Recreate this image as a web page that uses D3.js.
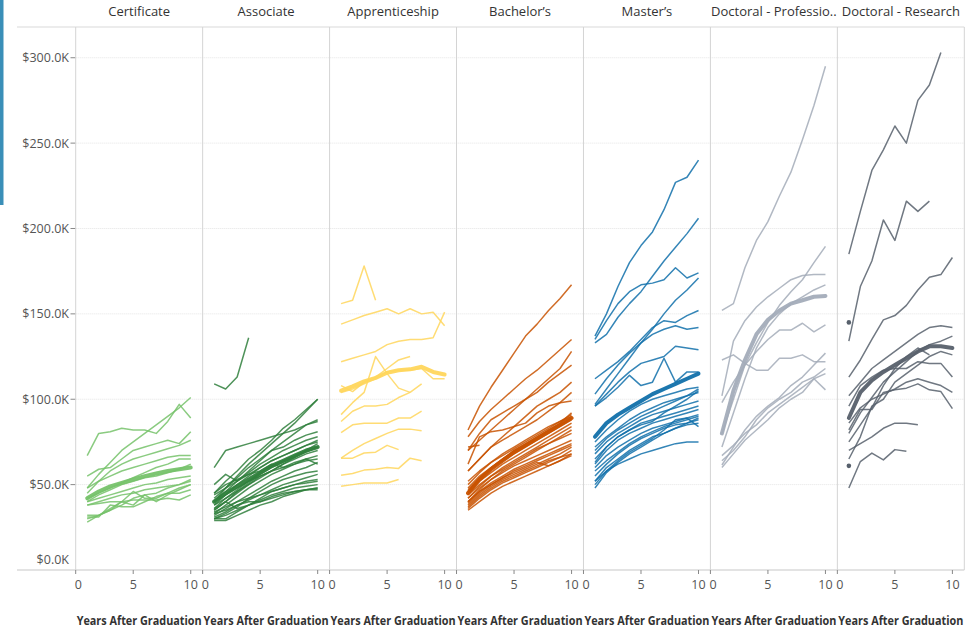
<!DOCTYPE html>
<html>
<head>
<meta charset="utf-8">
<script src="https://cdn.jsdelivr.net/npm/d3@7"></script>
<style>
  body { margin: 0; background: #fff; }
  text { font-family: "Open Sans", "Noto Sans", sans-serif; }
</style>
</head>
<body>
<script>
const width = 979;
const height = 630;

// panel headers and colours
const categories = ["Certificate", "Associate", "Apprenticeship", "Bachelor’s", "Master’s", "Doctoral - Professio..", "Doctoral - Research"];
const colors = ["#76c26a", "#2f7f3c", "#ffd65c", "#c85200", "#1170aa", "#a3acb9", "#57606c"];
const yTicks = [0, 50, 100, 150, 200, 250, 300];   // $K
const xTicks = [0, 5, 10];

// salary (in $K) by year after graduation, each series starts at year 1
const certificateLines = [
  [67, 80, 81, 83, 82, 82, 80, 87, 97, 89],
  [48, 56, 63, 70, 75, 80, 85, 90, 95, 101],
  [55, 59, 60, 65, 70, 72, 74, 76, 74, 81],
  [45, 52, 58, 62, 65, 67, 69, 71, 73, 76],
  [48, 52, 55, 58, 60, 62, 64, 66, 67, 67],
  [42, 45, 48, 51, 54, 57, 60, 62, 65, 65],
  [40, 44, 47, 50, 52, 54, 55, 57, 59, 62],
  [40, 42, 44, 46, 48, 50, 51, 53, 54, 55],
  [38, 40, 42, 44, 45, 47, 48, 49, 50, 52],
  [38, 39, 40, 40, 41, 41, 41, 42, 41, 44],
  [30, 32, 36, 40, 38, 44, 40, 44, 47, 50],
  [28, 32, 35, 38, 42, 44, 45, 48, 50, 53],
  [32, 32, 35, 40, 46, 42, 42, 45, 48, 50],
  [31, 31, 38, 37, 37, 40, 43, 45, 45, 47]
];
const certificateAvg = [42, 46, 49, 51, 53, 55, 56.5, 58, 59, 60];

const associateLines = [
  [109, 106, 113, 136],
  [60, 70, 72, 74, 76, 78, 80, 82, 85, 87],
  [45, 52, 58, 65, 70, 76, 83, 88, 94, 100],
  [40, 48, 55, 62, 68, 74, 80, 86, 93, 100],
  [50, 56, 52, 58, 64, 70, 75, 80, 85, 88],
  [42, 48, 54, 60, 65, 70, 72, 76, 79, 81],
  [40, 46, 52, 57, 62, 66, 70, 73, 76, 78],
  [38, 44, 50, 55, 60, 64, 67, 70, 73, 75],
  [36, 42, 47, 52, 57, 61, 64, 67, 70, 72],
  [35, 40, 45, 50, 55, 58, 62, 65, 68, 70],
  [33, 38, 43, 48, 52, 56, 59, 62, 65, 67],
  [40, 44, 48, 52, 55, 58, 60, 62, 64, 65],
  [45, 50, 53, 56, 58, 62, 60, 63, 65, 62],
  [32, 36, 40, 44, 48, 52, 55, 58, 60, 63],
  [30, 33, 37, 42, 46, 50, 53, 55, 57, 58],
  [31, 34, 38, 41, 44, 47, 50, 52, 54, 56],
  [30, 30, 34, 38, 42, 46, 48, 50, 52, 53],
  [34, 37, 40, 42, 44, 46, 48, 50, 51, 52],
  [30, 32, 35, 38, 41, 44, 46, 48, 49, 50],
  [29, 29, 32, 35, 38, 40, 43, 45, 47, 48],
  [33, 35, 38, 40, 40, 42, 44, 46, 47, 47],
  [36, 40, 36, 38, 40, 43, 45, 46, 47, 48],
  [44, 48, 52, 56, 60, 64, 67, 70, 73, 76],
  [38, 42, 46, 50, 54, 58, 62, 66, 70, 74],
  [35, 40, 46, 51, 56, 60, 63, 66, 69, 72]
];
const associateAvg = [40, 45, 49, 53, 57, 61, 64, 67, 70, 72];

const apprenticeshipLines = [
  [156, 158, 178, 158],
  [144, 146.5, 149, 151, 153, 150, 153, 150, 151, 143],
  [122, 124, 126, 128, 132, 134, 135, 135, 136, 151],
  [91, 98, 104, 125, 115, 106.5, 104],
  [108, 104.5, 110, 113, 118, 123, 125],
  [104, 106, 109, 112, 116, 117, 117, 118, 112, 112],
  [87, 93, 96, 96, 97, 101, 104, 109],
  [80.5, 85, 86, 86, 86, 89, 89, 93],
  [65.5, 70, 74, 77, 80, 82.5, 82.5, 81.5],
  [65.5, 65.5, 68.5, 69, 73, 70.5],
  [55.5, 56.5, 58.5, 59, 60, 59.5, 65.5, 64],
  [49, 50, 51, 51, 51, 53]
];
const apprenticeshipAvg = [105, 107.5, 110.5, 112.5, 115.5, 117, 117.5, 119, 116, 114.5];

const bachelorsLines = [
  [82, 96, 107, 117, 127, 137, 144, 152, 159, 167],
  [78, 87, 94, 100, 106, 112, 117, 123, 129, 135],
  [70, 76, 82, 88, 94, 100, 106, 112, 118, 128],
  [72, 73],
  [70, 80, 88, 92, 96, 100, 104, 110, 115, 120],
  [58, 65, 72, 78, 84, 90, 96, 100, 104, 110],
  [62, 78, 81, 82, 84, 86, 92, 96, 98, 99],
  [58, 65, 72, 76, 80, 84, 88, 93, 98, 104],
  [52, 58, 63, 67, 71, 75, 79, 83, 87, 91],
  [48, 55, 60, 65, 69, 73, 77, 81, 85, 89],
  [45, 52, 57, 62, 66, 70, 74, 78, 82, 86],
  [44, 50, 55, 59, 63, 67, 71, 74, 77, 80],
  [42, 48, 53, 57, 61, 64, 67, 70, 73, 76],
  [40, 46, 51, 55, 59, 62, 65, 68, 71, 74],
  [38, 44, 49, 53, 56, 59, 62, 65, 68, 72],
  [36, 42, 47, 51, 54, 57, 60, 63, 66, 70],
  [35, 40, 45, 49, 52, 55, 58, 61, 64, 67],
  [40, 47, 53, 58, 62, 66, 70, 74, 78, 82],
  [46, 53, 59, 64, 68, 72, 76, 80, 84, 88],
  [50, 57, 63, 68, 72, 76, 80, 84, 87, 90],
  [40, 46, 50, 54, 57, 60, 63, 61, 64, 68],
  [37, 43, 48, 52, 55, 58, 61, 64, 66, 68],
  [39, 45, 50, 54, 58, 61, 64, 67, 70, 73],
  [47, 54, 60, 65, 70, 74, 78, 82, 86, 92],
  [42, 49, 55, 60, 64, 68, 72, 76, 80, 84]
];
const bachelorsAvg = [45, 53, 59, 64, 69, 73, 77, 81, 85, 89];

const mastersLines = [
  [137, 150, 166, 180, 190, 198, 211, 227, 230, 240],
  [133, 138, 148, 156, 163, 172, 181, 189, 197, 206],
  [135, 146, 156, 163, 167, 168, 170, 177, 171, 174],
  [97, 106, 115, 124, 133, 141, 150, 158, 164, 171],
  [112, 117, 122, 128, 135, 142, 146, 145, 149, 152],
  [103, 112, 120, 127, 133, 138, 141, 143, 141, 142],
  [96, 103, 110, 116, 121, 123, 125, 131, 130, 129],
  [96, 101, 107, 114, 108, 110, 124, 110, 116, 116],
  [72, 78, 83, 88, 92, 95, 98, 100, 102, 104],
  [68, 75, 80, 84, 88, 91, 93, 95, 97, 99],
  [65, 72, 78, 82, 86, 88, 90, 92, 94, 96],
  [62, 70, 76, 80, 83, 86, 88, 90, 92, 94],
  [60, 67, 72, 76, 80, 83, 85, 87, 89, 91],
  [58, 64, 69, 74, 78, 81, 84, 86, 88, 90],
  [55, 62, 68, 73, 77, 80, 83, 85, 86, 88],
  [52, 60, 65, 70, 74, 78, 80, 83, 85, 86],
  [50, 58, 64, 69, 73, 77, 82, 88, 89, 84],
  [48, 57, 63, 68, 72, 76, 80, 83, 86, 89],
  [52, 58, 62, 65, 68, 70, 72, 74, 75, 75],
  [63, 72, 78, 82, 85, 87, 92, 96, 100, 105],
  [75, 82, 88, 93, 97, 100, 102, 104, 106, 107],
  [70, 77, 82, 86, 90, 93, 96, 99, 102, 106]
];
const mastersAvg = [78, 86, 91, 95, 99, 103, 106, 109, 112, 115];

const doctoralProfLines = [
  [152, 156, 177, 193, 204, 219, 233, 252, 272, 295],
  [102, 134, 146, 154, 160, 165, 170, 172.5, 173, 173],
  [80, 100, 120, 133, 145, 155, 163, 170, 180, 189.5],
  [98, 110, 120, 128, 135, 140.5, 140.5, 144.5, 139.5, 143.5],
  [123, 126, 121, 117, 117, 124, 124, 126, 122, 122],
  [61.5, 72, 82, 90, 96, 101, 108, 113, 120, 127],
  [64, 70, 78, 88, 95, 100, 104, 110, 113, 118],
  [67, 73, 80, 85, 92, 97, 102, 107, 112, 115],
  [60, 68, 76, 82, 88, 95, 100, 104, 112, 105.5],
  [72, 92, 112, 130, 142, 150, 156, 160, 164, 167]
];
const doctoralProfAvg = [80, 105, 123, 138, 146.5, 152, 156, 158, 160, 160.5];

const doctoralResLines = [
  [185, 210, 234, 246, 260, 250, 275, 284, 303],
  [134, 166, 181, 205, 193, 216, 210, 216],
  [113, 123, 135, 146.5, 149, 155, 164, 171.5, 173, 183],
  [145],
  [61],
  [102, 110, 118, 123, 128, 133, 138, 142, 143, 142],
  [96, 108, 113, 117, 118, 118, 122, 121, 121, 113],
  [80, 92, 101, 110, 116, 122, 128, 132, 134, 137],
  [82, 94, 94, 104, 105.5, 106.5, 109, 105.5, 104.5, 94.5],
  [70, 74, 78, 83, 86, 86, 85],
  [48, 63.5, 68.5, 64.5, 70.5, 69.5],
  [75, 85, 95, 108, 118, 125, 130, 126],
  [65, 78, 96, 100, 110, 115, 120, 125, 128, 126],
  [86, 95, 100, 103, 106, 110, 112, 110, 108, 104]
];
const doctoralResAvg = [89, 104, 111, 116, 120, 124, 128, 131, 131, 130];

const panelLines = [certificateLines, associateLines, apprenticeshipLines, bachelorsLines, mastersLines, doctoralProfLines, doctoralResLines];
const panelAvg = [certificateAvg, associateAvg, apprenticeshipAvg, bachelorsAvg, mastersAvg, doctoralProfAvg, doctoralResAvg];

// layout
const plotLeft = 75.7, plotRight = 964.3, plotTop = 27, plotBottom = 570;
const pw = (plotRight - plotLeft) / categories.length;

const svg = d3.select("body").append("svg")
  .attr("width", width)
  .attr("height", height);

// tableau side marker
svg.append("rect").attr("x", 0).attr("y", 0).attr("width", 3.5).attr("height", 205).attr("fill", "#3a8fb8");

const y = d3.scaleLinear().domain([0, 318]).range([plotBottom, plotTop]);
const x = d3.scaleLinear().domain([0, 11.035]).range([0, pw]);

// gridlines
svg.append("g").selectAll("line")
  .data(yTicks.filter(d => d > 0))
  .join("line")
  .attr("x1", plotLeft).attr("x2", plotRight)
  .attr("y1", d => y(d)).attr("y2", d => y(d))
  .attr("stroke", "#e4e4e4")
  .attr("stroke-dasharray", "1,1");

// y axis labels and ticks
const yg = svg.append("g");
yg.selectAll("text")
  .data(yTicks)
  .join("text")
  .attr("x", 69)
  .attr("y", d => d === 0 ? y(d) - 6 : y(d) + 4.5)
  .attr("text-anchor", "end")
  .attr("font-size", 12.5)
  .attr("fill", "#555")
  .text(d => "$" + d3.format(".1f")(d) + "K");
yg.selectAll("line")
  .data(yTicks.filter(d => d > 0))
  .join("line")
  .attr("x1", 70.5).attr("x2", plotLeft)
  .attr("y1", d => y(d)).attr("y2", d => y(d))
  .attr("stroke", "#888");

// header and axis base lines
svg.append("line").attr("x1", 17).attr("x2", plotRight).attr("y1", plotTop).attr("y2", plotTop).attr("stroke", "#d9d9d9").attr("stroke-width", 1.2);
svg.append("line").attr("x1", 17).attr("x2", plotRight).attr("y1", plotBottom).attr("y2", plotBottom).attr("stroke", "#c8c8c8").attr("stroke-width", 1.2);

const line = d3.line()
  .x((d, i) => x(i + 1))
  .y(d => y(d));

categories.forEach((cat, p) => {
  const g = svg.append("g").attr("transform", `translate(${plotLeft + p * pw},0)`);

  // panel border
  g.append("line").attr("x1", 0).attr("x2", 0).attr("y1", plotTop).attr("y2", plotBottom).attr("stroke", "#d4d4d4");
  if (p === categories.length - 1)
    g.append("line").attr("x1", pw).attr("x2", pw).attr("y1", plotTop).attr("y2", plotBottom).attr("stroke", "#d4d4d4");

  // header
  g.append("text")
    .attr("x", pw / 2).attr("y", 16)
    .attr("text-anchor", "middle")
    .attr("font-size", 13)
    .attr("fill", "#333")
    .text(cat);

  const lines = panelLines[p];
  g.append("g").selectAll("path")
    .data(lines.filter(d => d.length > 1))
    .join("path")
    .attr("d", line)
    .attr("fill", "none")
    .attr("stroke", colors[p])
    .attr("stroke-opacity", 0.85)
    .attr("stroke-width", 1.5)
    .attr("stroke-linejoin", "round");

  g.append("g").selectAll("circle")
    .data(lines.filter(d => d.length === 1))
    .join("circle")
    .attr("cx", x(1)).attr("cy", d => y(d[0]))
    .attr("r", 2.3)
    .attr("fill", colors[p]);

  g.append("path")
    .datum(panelAvg[p])
    .attr("d", line)
    .attr("fill", "none")
    .attr("stroke", colors[p])
    .attr("stroke-opacity", 0.95)
    .attr("stroke-width", 4)
    .attr("stroke-linejoin", "round")
    .attr("stroke-linecap", "round");

  // x axis
  g.selectAll(".xt")
    .data(xTicks)
    .join("line")
    .attr("class", "xt")
    .attr("x1", d => x(d)).attr("x2", d => x(d))
    .attr("y1", plotBottom).attr("y2", plotBottom + 4)
    .attr("stroke", "#888");
  g.selectAll(".xl")
    .data(xTicks)
    .join("text")
    .attr("class", "xl")
    .attr("x", d => d === 0 ? x(d) - 1 : x(d))
    .attr("y", 589)
    .attr("text-anchor", d => d === 0 ? "start" : "middle")
    .attr("font-size", 12.5)
    .attr("fill", "#555")
    .text(d => d);

  g.append("text")
    .attr("x", pw / 2).attr("y", 625)
    .attr("text-anchor", "middle")
    .attr("font-size", 12)
    .attr("font-weight", "bold")
    .attr("fill", "#333")
    .attr("textLength", 125)
    .attr("lengthAdjust", "spacingAndGlyphs")
    .text("Years After Graduation");
});
</script>
</body>
</html>
